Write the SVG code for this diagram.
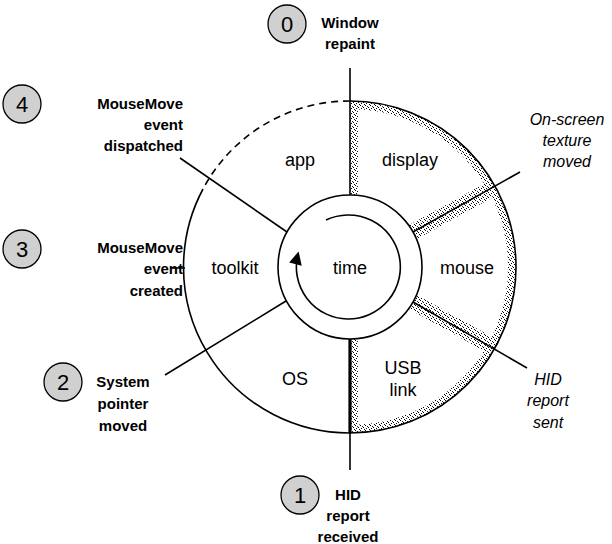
<svg xmlns="http://www.w3.org/2000/svg" width="612" height="544" viewBox="0 0 612 544">
<style>
text{font-family:"Liberation Sans",Arial,sans-serif;font-size:15px;fill:#000}
.b{font-weight:bold}
.i{font-style:italic;font-size:16px}
.n{font-size:22px;text-anchor:middle}
.c{text-anchor:middle}
.r{text-anchor:end}
.s{font-size:18px;text-anchor:middle}
.ln{stroke:#000;stroke-width:1.6;fill:none}
.badge{fill:#d0d0d0;stroke:#000;stroke-width:1.3}
</style>
<defs>
<pattern id="stip" width="5" height="5" patternUnits="userSpaceOnUse">
<rect x="0" y="0" width="1" height="1" fill="#000"/><rect x="3" y="2" width="1" height="1" fill="#000"/><rect x="1" y="3" width="1" height="1" fill="#000"/><rect x="4" y="4" width="1" height="1" fill="#000"/><rect x="2" y="1" width="1" height="1" fill="#222"/>
</pattern>
<clipPath id="rh"><path d="M350,101 A166,166 0 0 1 350,433 L350,339 A72,72 0 0 0 350,195 Z"/></clipPath>
<marker id="ah" viewBox="0 0 10 10" refX="8" refY="5" markerWidth="15" markerHeight="13" markerUnits="userSpaceOnUse" orient="auto"><path d="M0,0 L10,5 L0,10 Z" fill="#000"/></marker>
</defs>
<g id="stipple" clip-path="url(#rh)" fill="none" stroke="url(#stip)" stroke-width="16">
<circle cx="350" cy="267" r="166"/>
<line x1="350" y1="100" x2="350" y2="195"/>
<line x1="413" y1="232" x2="497" y2="186"/>
<line x1="413" y1="302" x2="497" y2="349"/>
<line x1="350" y1="339" x2="350" y2="433"/>
</g>
<g id="connectors">
<path class="ln" d="M203,189 A166,166 0 0 0 350,433 A166,166 0 0 0 350,101"/>
<path class="ln" d="M350,101 A166,166 0 0 0 203,189" stroke-dasharray="7,5"/>
<circle class="ln" cx="350" cy="267" r="72"/>
<line class="ln" x1="350" y1="68" x2="350" y2="195"/>
<line x1="350" y1="339" x2="350" y2="433" stroke="#000" stroke-width="3.2"/>
<line class="ln" x1="350" y1="433" x2="350" y2="470"/>
<line class="ln" x1="413" y1="232" x2="520" y2="172"/>
<line class="ln" x1="413" y1="302" x2="527" y2="368"/>
<line class="ln" x1="180" y1="158" x2="287" y2="232"/>
<line class="ln" x1="165" y1="375" x2="286" y2="301"/>
<line class="ln" x1="172" y1="268" x2="185" y2="268"/>
<path class="ln" d="M326,220 A52,52 0 1 1 298,254" marker-end="url(#ah)"/>
</g>
<g id="sectors">
<text x="300" y="166" class="s">app</text>
<text x="410" y="166" class="s">display</text>
<text x="235" y="274" class="s">toolkit</text>
<text x="350" y="274" class="s">time</text>
<text x="467" y="274" class="s">mouse</text>
<text x="295" y="385" class="s">OS</text>
<text x="403" y="374" class="s">USB</text>
<text x="403" y="396" class="s">link</text>
</g>
<g id="n0"><circle class="badge" cx="287" cy="24" r="19"/><text x="287" y="32" class="n">0</text>
<text x="350" y="28" class="c b">Window</text><text x="350" y="49" class="c b">repaint</text></g>
<g id="n4"><circle class="badge" cx="22" cy="104" r="19"/><text x="22" y="112" class="n">4</text>
<text x="183" y="109" class="r b">MouseMove</text><text x="183" y="130" class="r b">event</text><text x="183" y="151" class="r b">dispatched</text></g>
<g id="n3"><circle class="badge" cx="22" cy="249" r="19"/><text x="22" y="257" class="n">3</text>
<text x="183" y="253" class="r b">MouseMove</text><text x="183" y="274" class="r b">event</text><text x="183" y="296" class="r b">created</text></g>
<g id="n2"><circle class="badge" cx="63" cy="382" r="19"/><text x="63" y="390" class="n">2</text>
<text x="123" y="387" class="c b">System</text><text x="123" y="409" class="c b">pointer</text><text x="123" y="431" class="c b">moved</text></g>
<g id="n1"><circle class="badge" cx="300" cy="495" r="19"/><text x="300" y="503" class="n">1</text>
<text x="348" y="500" class="c b">HID</text><text x="348" y="521" class="c b">report</text><text x="348" y="542" class="c b">received</text></g>
<g id="texture"><text x="567" y="125" class="c i">On-screen</text><text x="567" y="146" class="c i">texture</text><text x="567" y="167" class="c i">moved</text></g>
<g id="hidsent"><text x="548" y="385" class="c i">HID</text><text x="548" y="406" class="c i">report</text><text x="548" y="428" class="c i">sent</text></g>
</svg>
